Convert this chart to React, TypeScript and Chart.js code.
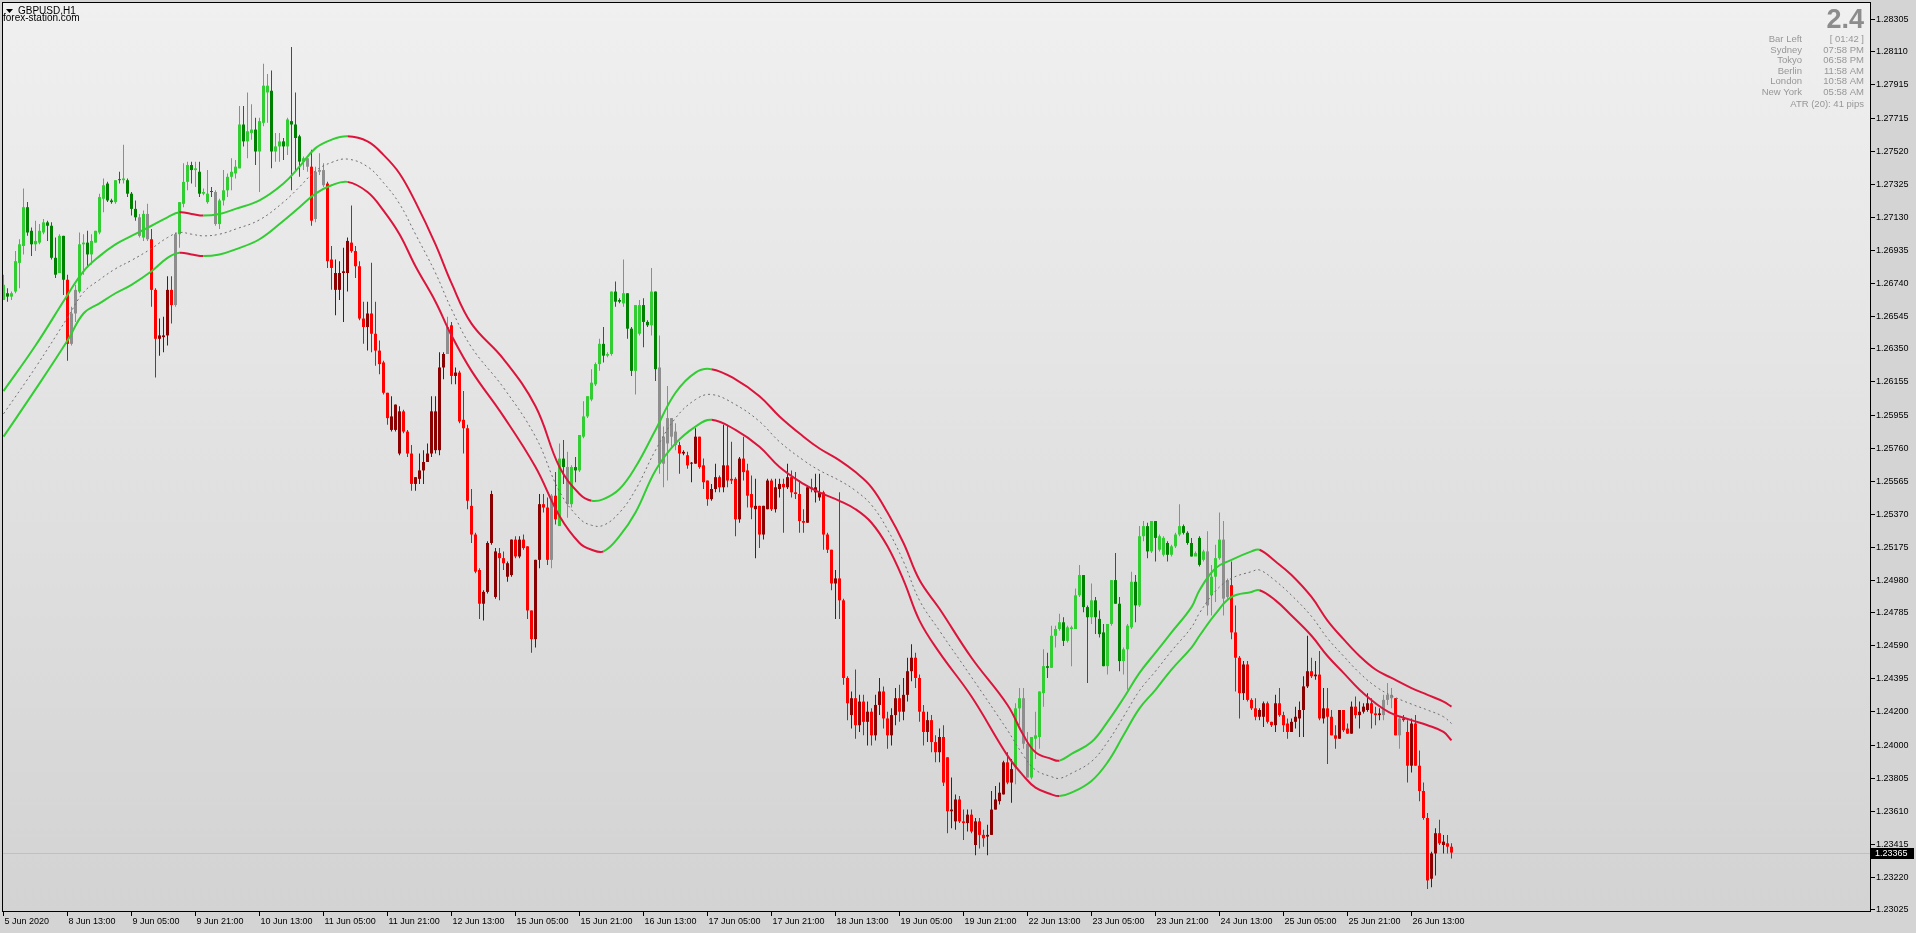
import React, { useEffect, useRef } from "react";
import { Chart, registerables } from "chart.js";

Chart.register(...registerables);

const FONT = '"Liberation Sans", Arial, sans-serif';
const TONE_COLORS: Record<string, string> = {
  L: "#32CD32",
  G: "#008000",
  R: "#FF0000",
  D: "#8B0000",
  N: "#8E8E8E",
};
const BAND_UP = "#32CD32";
const BAND_DOWN = "#DC143C";

// ---- candles (H1, bar index 0 .. 362) ----
const opens = [
  1.2664, 1.2668, 1.2666, 1.2669, 1.2686, 1.2696, 1.2719, 1.2705, 1.2697, 1.2698,
  1.2704, 1.2710, 1.2708, 1.2689, 1.2680, 1.2702, 1.2676, 1.2638, 1.2656, 1.2669,
  1.2697, 1.2698, 1.2691, 1.2698, 1.2704, 1.2724, 1.2733, 1.2723, 1.2722, 1.2735,
  1.2735, 1.2735, 1.2727, 1.2718, 1.2713, 1.2701, 1.2715, 1.2700, 1.2670, 1.2641,
  1.2642, 1.2643, 1.2670, 1.2661, 1.2703, 1.2721, 1.2734, 1.2744, 1.2741, 1.2740,
  1.2727, 1.2722, 1.2728, 1.2728, 1.2709, 1.2723, 1.2729, 1.2737, 1.2739, 1.2742,
  1.2768, 1.2758, 1.2763, 1.2765, 1.2752, 1.2769, 1.2787, 1.2788, 1.2752, 1.2755,
  1.2758, 1.2755, 1.2770, 1.2768, 1.2761, 1.2746, 1.2748, 1.2743, 1.2712, 1.2740,
  1.2741, 1.2733, 1.2688, 1.2670, 1.2670, 1.2680, 1.2680, 1.2698, 1.2693, 1.2684,
  1.2653, 1.2648, 1.2656, 1.2644, 1.2634, 1.2627, 1.2609, 1.2587, 1.2587, 1.2573,
  1.2598, 1.2586, 1.2573, 1.2555, 1.2558, 1.2563, 1.2568, 1.2573, 1.2575, 1.2575,
  1.2624, 1.2632, 1.2649, 1.2619, 1.2621, 1.2593, 1.2588, 1.2542, 1.2525, 1.2504,
  1.2484, 1.2491, 1.2520, 1.2488, 1.2514, 1.2511, 1.2500, 1.2501, 1.2522, 1.2512,
  1.2522, 1.2518, 1.2480, 1.2463, 1.2510, 1.2543, 1.2541, 1.2510, 1.2548, 1.2530,
  1.2570, 1.2565, 1.2543, 1.2565, 1.2563, 1.2583, 1.2595, 1.2605, 1.2614, 1.2626,
  1.2638, 1.2631, 1.2632, 1.2669, 1.2664, 1.2662, 1.2668, 1.2647, 1.2622, 1.2644,
  1.2661, 1.2651, 1.2649, 1.2669, 1.2624, 1.2567, 1.2579, 1.2594, 1.2586, 1.2578,
  1.2573, 1.2572, 1.2567, 1.2567, 1.2583, 1.2566, 1.2557, 1.2546, 1.2552, 1.2559,
  1.2553, 1.2566, 1.2558, 1.2558, 1.2534, 1.2570, 1.2563, 1.2549, 1.2540, 1.2542,
  1.2525, 1.2540, 1.2557, 1.2540, 1.2552, 1.2555, 1.2553, 1.2559, 1.2550, 1.2549,
  1.2533, 1.2532, 1.2553, 1.2550, 1.2547, 1.2550, 1.2525, 1.2516, 1.2496, 1.2499,
  1.2486, 1.2440, 1.2418, 1.2428, 1.2412, 1.2426, 1.2414, 1.2420, 1.2406, 1.2424,
  1.2432, 1.2416, 1.2406, 1.2418, 1.2428, 1.2420, 1.2430, 1.2444, 1.2452, 1.2440,
  1.2420, 1.2408, 1.2415, 1.2402, 1.2396, 1.2405, 1.2393, 1.2361, 1.2355, 1.2368,
  1.2355, 1.2354, 1.2359, 1.2341, 1.2355, 1.2347, 1.2346, 1.2347, 1.2362, 1.2367,
  1.2371, 1.2390, 1.2378, 1.2387, 1.2422, 1.2428, 1.2401, 1.2381, 1.2404, 1.2405,
  1.2431, 1.2447, 1.2446, 1.2465, 1.2469, 1.2473, 1.2462, 1.2469, 1.2469, 1.2489,
  1.2501, 1.2482, 1.2476, 1.2486, 1.2475, 1.2467, 1.2447, 1.2472, 1.2498, 1.2484,
  1.2450, 1.2457, 1.2470, 1.2497, 1.2483, 1.2524, 1.2530, 1.2515, 1.2533, 1.2516,
  1.2513, 1.2520, 1.2513, 1.2518, 1.2525, 1.2530, 1.2526, 1.2520, 1.2512, 1.2523,
  1.2510, 1.2515, 1.2489, 1.2500, 1.2511, 1.2522, 1.2488, 1.2495, 1.2467, 1.2452,
  1.2431, 1.2448, 1.2427, 1.2422, 1.2417, 1.2417, 1.2425, 1.2414, 1.2412, 1.2425,
  1.2418, 1.2413, 1.2408, 1.2414, 1.2416, 1.2421, 1.2435, 1.2444, 1.2441, 1.2442,
  1.2416, 1.2422, 1.2417, 1.2406, 1.2404, 1.2421, 1.2410, 1.2407, 1.2423, 1.2418,
  1.2420, 1.2421, 1.2425, 1.2419, 1.2418, 1.2418, 1.2427, 1.2430, 1.2428, 1.2406,
  1.2416, 1.2408, 1.2388, 1.2413, 1.2388, 1.2373, 1.2357, 1.2321, 1.2336, 1.2348,
  1.2341, 1.2342, 1.2340,
];
const closes = [
  1.2673, 1.2666, 1.2668, 1.2687, 1.2697, 1.2719, 1.2704, 1.2697, 1.2699, 1.2705,
  1.2710, 1.2708, 1.2689, 1.2679, 1.2702, 1.2676, 1.2638, 1.2656, 1.2670, 1.2697,
  1.2698, 1.2691, 1.2699, 1.2705, 1.2725, 1.2732, 1.2723, 1.2722, 1.2735, 1.2735,
  1.2736, 1.2727, 1.2718, 1.2713, 1.2702, 1.2715, 1.2700, 1.2670, 1.2641, 1.2643,
  1.2643, 1.2670, 1.2661, 1.2703, 1.2722, 1.2734, 1.2744, 1.2741, 1.2742, 1.2727,
  1.2728, 1.2727, 1.2728, 1.2709, 1.2723, 1.2729, 1.2737, 1.2740, 1.2743, 1.2768,
  1.2758, 1.2764, 1.2765, 1.2752, 1.2770, 1.2791, 1.2791, 1.2752, 1.2755, 1.2758,
  1.2755, 1.2771, 1.2768, 1.2760, 1.2746, 1.2748, 1.2743, 1.2711, 1.2740, 1.2741,
  1.2732, 1.2687, 1.2683, 1.2680, 1.2680, 1.2681, 1.2699, 1.2693, 1.2684, 1.2653,
  1.2648, 1.2656, 1.2644, 1.2634, 1.2626, 1.2609, 1.2594, 1.2595, 1.2602, 1.2598,
  1.2586, 1.2573, 1.2555, 1.2559, 1.2563, 1.2568, 1.2573, 1.2598, 1.2598, 1.2624,
  1.2632, 1.2648, 1.2619, 1.2621, 1.2592, 1.2588, 1.2545, 1.2525, 1.2503, 1.2484,
  1.2491, 1.2520, 1.2549, 1.2515, 1.2511, 1.2508, 1.2508, 1.2522, 1.2512, 1.2522,
  1.2517, 1.2480, 1.2463, 1.2510, 1.2543, 1.2541, 1.2510, 1.2548, 1.2534, 1.2570,
  1.2565, 1.2543, 1.2565, 1.2563, 1.2584, 1.2595, 1.2607, 1.2615, 1.2626, 1.2638,
  1.2631, 1.2632, 1.2669, 1.2663, 1.2663, 1.2668, 1.2647, 1.2622, 1.2661, 1.2661,
  1.2651, 1.2649, 1.2669, 1.2623, 1.2567, 1.2583, 1.2594, 1.2583, 1.2578, 1.2573,
  1.2574, 1.2566, 1.2567, 1.2583, 1.2565, 1.2556, 1.2546, 1.2552, 1.2559, 1.2553,
  1.2566, 1.2557, 1.2557, 1.2534, 1.2570, 1.2562, 1.2548, 1.2541, 1.2542, 1.2525,
  1.2542, 1.2557, 1.2540, 1.2553, 1.2555, 1.2553, 1.2559, 1.2550, 1.2549, 1.2533,
  1.2532, 1.2553, 1.2552, 1.2553, 1.2550, 1.2525, 1.2516, 1.2496, 1.2499, 1.2486,
  1.2440, 1.2425, 1.2428, 1.2412, 1.2426, 1.2414, 1.2420, 1.2406, 1.2424, 1.2432,
  1.2416, 1.2406, 1.2418, 1.2428, 1.2420, 1.2430, 1.2444, 1.2452, 1.2440, 1.2420,
  1.2408, 1.2415, 1.2402, 1.2396, 1.2405, 1.2378, 1.2361, 1.2362, 1.2368, 1.2355,
  1.2354, 1.2359, 1.2349, 1.2355, 1.2347, 1.2345, 1.2347, 1.2362, 1.2368, 1.2372,
  1.2390, 1.2378, 1.2386, 1.2422, 1.2428, 1.2401, 1.2381, 1.2405, 1.2406, 1.2432,
  1.2447, 1.2446, 1.2465, 1.2469, 1.2473, 1.2462, 1.2470, 1.2470, 1.2489, 1.2501,
  1.2482, 1.2476, 1.2486, 1.2476, 1.2466, 1.2447, 1.2472, 1.2498, 1.2484, 1.2450,
  1.2457, 1.2471, 1.2497, 1.2483, 1.2524, 1.2530, 1.2515, 1.2533, 1.2523, 1.2524,
  1.2523, 1.2513, 1.2518, 1.2525, 1.2530, 1.2526, 1.2520, 1.2512, 1.2514, 1.2507,
  1.2515, 1.2483, 1.2500, 1.2511, 1.2522, 1.2487, 1.2498, 1.2467, 1.2452, 1.2431,
  1.2448, 1.2427, 1.2422, 1.2417, 1.2421, 1.2425, 1.2414, 1.2412, 1.2425, 1.2418,
  1.2412, 1.2408, 1.2414, 1.2417, 1.2421, 1.2435, 1.2444, 1.2441, 1.2442, 1.2416,
  1.2422, 1.2417, 1.2406, 1.2404, 1.2421, 1.2409, 1.2407, 1.2423, 1.2418, 1.2420,
  1.2423, 1.2425, 1.2419, 1.2418, 1.2419, 1.2427, 1.2430, 1.2428, 1.2406, 1.2416,
  1.2415, 1.2388, 1.2413, 1.2388, 1.2373, 1.2357, 1.2320, 1.2336, 1.2348, 1.2342,
  1.2343, 1.2340, 1.23365,
];
const highs = [
  1.2679, 1.2671, 1.2669, 1.2693, 1.2700, 1.2730, 1.2722, 1.2707, 1.2711, 1.2709,
  1.2712, 1.2711, 1.2710, 1.2701, 1.2703, 1.2702, 1.2679, 1.2660, 1.2673, 1.2704,
  1.2703, 1.2705, 1.2703, 1.2705, 1.2727, 1.2736, 1.2734, 1.2724, 1.2735, 1.2740,
  1.2756, 1.2736, 1.2728, 1.2723, 1.2715, 1.2717, 1.2721, 1.2706, 1.2671, 1.2653,
  1.2654, 1.2678, 1.2678, 1.2704, 1.2722, 1.2745, 1.2746, 1.2746, 1.2746, 1.2746,
  1.2730, 1.2741, 1.2731, 1.2729, 1.2724, 1.2741, 1.2739, 1.2748, 1.2747, 1.2779,
  1.2779, 1.2787, 1.2780, 1.2772, 1.2772, 1.2804, 1.2798, 1.2800, 1.2763, 1.2763,
  1.2760, 1.2772, 1.2814, 1.2787, 1.2762, 1.2749, 1.2748, 1.2753, 1.2743, 1.2751,
  1.2745, 1.2734, 1.2696, 1.2688, 1.2687, 1.2695, 1.2701, 1.2720, 1.2696, 1.2687,
  1.2663, 1.2663, 1.2686, 1.2663, 1.2640, 1.2628, 1.2609, 1.2607, 1.2602, 1.2601,
  1.2599, 1.2587, 1.2578, 1.2559, 1.2573, 1.2575, 1.2579, 1.2607, 1.2607, 1.2633,
  1.2633, 1.2654, 1.2651, 1.2624, 1.2622, 1.2610, 1.2590, 1.2552, 1.2526, 1.2505,
  1.2492, 1.2521, 1.2551, 1.2517, 1.2517, 1.2515, 1.2509, 1.2522, 1.2524, 1.2524,
  1.2525, 1.2518, 1.2480, 1.2510, 1.2549, 1.2549, 1.2547, 1.2549, 1.2562, 1.2579,
  1.2581, 1.2574, 1.2566, 1.2571, 1.2584, 1.2604, 1.2607, 1.2623, 1.2627, 1.2641,
  1.2648, 1.2633, 1.2669, 1.2675, 1.2665, 1.2688, 1.2668, 1.2648, 1.2661, 1.2664,
  1.2665, 1.2652, 1.2683, 1.2669, 1.2643, 1.2589, 1.2613, 1.2594, 1.2591, 1.2580,
  1.2575, 1.2574, 1.2568, 1.2588, 1.2583, 1.2570, 1.2557, 1.2555, 1.2567, 1.2560,
  1.2590, 1.2590, 1.2580, 1.2559, 1.2571, 1.2583, 1.2567, 1.2560, 1.2558, 1.2542,
  1.2542, 1.2558, 1.2558, 1.2558, 1.2558, 1.2558, 1.2567, 1.2563, 1.2562, 1.2557,
  1.2540, 1.2554, 1.2558, 1.2561, 1.2561, 1.2551, 1.2526, 1.2516, 1.2504, 1.2550,
  1.2487, 1.2441, 1.2432, 1.2445, 1.2430, 1.2430, 1.2426, 1.2422, 1.2430, 1.2440,
  1.2435, 1.2420, 1.2422, 1.2434, 1.2436, 1.2440, 1.2452, 1.2460, 1.2455, 1.2442,
  1.2424, 1.2420, 1.2418, 1.2406, 1.2410, 1.2412, 1.2393, 1.2381, 1.2371, 1.2370,
  1.2362, 1.2362, 1.2362, 1.2357, 1.2357, 1.2350, 1.2353, 1.2373, 1.2376, 1.2378,
  1.2391, 1.2396, 1.2392, 1.2425, 1.2434, 1.2434, 1.2408, 1.2405, 1.2420, 1.2432,
  1.2457, 1.2455, 1.2471, 1.2471, 1.2478, 1.2476, 1.2471, 1.2471, 1.2493, 1.2507,
  1.2501, 1.2483, 1.2496, 1.2488, 1.2480, 1.2472, 1.2472, 1.2498, 1.2514, 1.2488,
  1.2458, 1.2472, 1.2503, 1.2501, 1.2530, 1.2533, 1.2532, 1.2533, 1.2533, 1.2525,
  1.2524, 1.2521, 1.2519, 1.2526, 1.2543, 1.2531, 1.2527, 1.2523, 1.2515, 1.2524,
  1.2516, 1.2527, 1.2507, 1.2519, 1.2538, 1.2533, 1.2499, 1.2509, 1.2483, 1.2453,
  1.2450, 1.2450, 1.2428, 1.2428, 1.2422, 1.2426, 1.2426, 1.2414, 1.2430, 1.2434,
  1.2420, 1.2416, 1.2416, 1.2423, 1.2426, 1.2441, 1.2465, 1.2452, 1.2450, 1.2456,
  1.2434, 1.2434, 1.2421, 1.2412, 1.2421, 1.2421, 1.2413, 1.2426, 1.2429, 1.2426,
  1.2425, 1.2431, 1.2428, 1.2423, 1.2422, 1.2430, 1.2437, 1.2434, 1.2428, 1.2417,
  1.2418, 1.2415, 1.2416, 1.2418, 1.2397, 1.2378, 1.2360, 1.2337, 1.2351, 1.2356,
  1.2347, 1.2347, 1.2342,
];
const lows = [
  1.2664, 1.2663, 1.2664, 1.2668, 1.2671, 1.2691, 1.2702, 1.2690, 1.2693, 1.2697,
  1.2703, 1.2699, 1.2688, 1.2677, 1.2680, 1.2667, 1.2628, 1.2637, 1.2651, 1.2668,
  1.2679, 1.2683, 1.2685, 1.2698, 1.2703, 1.2716, 1.2722, 1.2721, 1.2721, 1.2733,
  1.2733, 1.2725, 1.2714, 1.2711, 1.2701, 1.2699, 1.2699, 1.2660, 1.2618, 1.2631,
  1.2633, 1.2637, 1.2650, 1.2660, 1.2695, 1.2719, 1.2729, 1.2733, 1.2731, 1.2725,
  1.2726, 1.2721, 1.2725, 1.2708, 1.2706, 1.2720, 1.2725, 1.2729, 1.2736, 1.2742,
  1.2755, 1.2748, 1.2759, 1.2744, 1.2728, 1.2767, 1.2769, 1.2742, 1.2746, 1.2746,
  1.2747, 1.2750, 1.2729, 1.2740, 1.2737, 1.2741, 1.2740, 1.2708, 1.2710, 1.2738,
  1.2731, 1.2683, 1.2670, 1.2655, 1.2664, 1.2651, 1.2669, 1.2692, 1.2677, 1.2652,
  1.2638, 1.2634, 1.2633, 1.2625, 1.2620, 1.2608, 1.2590, 1.2586, 1.2586, 1.2572,
  1.2585, 1.2571, 1.2551, 1.2551, 1.2555, 1.2555, 1.2568, 1.2571, 1.2573, 1.2572,
  1.2617, 1.2632, 1.2614, 1.2614, 1.2591, 1.2573, 1.2540, 1.2520, 1.2502, 1.2475,
  1.2474, 1.2490, 1.2519, 1.2487, 1.2486, 1.2504, 1.2497, 1.2500, 1.2511, 1.2511,
  1.2516, 1.2475, 1.2455, 1.2458, 1.2505, 1.2538, 1.2507, 1.2505, 1.2531, 1.2530,
  1.2555, 1.2535, 1.2541, 1.2556, 1.2562, 1.2582, 1.2594, 1.2604, 1.2613, 1.2622,
  1.2627, 1.2630, 1.2631, 1.2660, 1.2662, 1.2660, 1.2641, 1.2619, 1.2608, 1.2643,
  1.2636, 1.2648, 1.2643, 1.2616, 1.2561, 1.2553, 1.2557, 1.2577, 1.2575, 1.2561,
  1.2572, 1.2564, 1.2556, 1.2567, 1.2564, 1.2552, 1.2542, 1.2545, 1.2550, 1.2550,
  1.2550, 1.2553, 1.2555, 1.2524, 1.2532, 1.2557, 1.2541, 1.2534, 1.2511, 1.2517,
  1.2522, 1.2540, 1.2539, 1.2538, 1.2547, 1.2526, 1.2552, 1.2547, 1.2546, 1.2526,
  1.2526, 1.2532, 1.2550, 1.2544, 1.2545, 1.2516, 1.2514, 1.2492, 1.2475, 1.2475,
  1.2436, 1.2415, 1.2410, 1.2404, 1.2408, 1.2406, 1.2400, 1.2400, 1.2403, 1.2418,
  1.2410, 1.2398, 1.2400, 1.2412, 1.2414, 1.2415, 1.2426, 1.2438, 1.2434, 1.2414,
  1.2400, 1.2402, 1.2396, 1.2390, 1.2390, 1.2376, 1.2348, 1.2351, 1.2350, 1.2354,
  1.2344, 1.2349, 1.2348, 1.2335, 1.2339, 1.2340, 1.2335, 1.2347, 1.2362, 1.2365,
  1.2371, 1.2377, 1.2366, 1.2377, 1.2412, 1.2398, 1.2381, 1.2380, 1.2392, 1.2398,
  1.2423, 1.2440, 1.2446, 1.2458, 1.2468, 1.2459, 1.2461, 1.2447, 1.2469, 1.2488,
  1.2479, 1.2437, 1.2472, 1.2466, 1.2464, 1.2447, 1.2442, 1.2471, 1.2484, 1.2444,
  1.2442, 1.2433, 1.2469, 1.2473, 1.2482, 1.2521, 1.2511, 1.2514, 1.2509, 1.2515,
  1.2512, 1.2509, 1.2512, 1.2517, 1.2524, 1.2525, 1.2519, 1.2512, 1.2513, 1.2506,
  1.2509, 1.2477, 1.2477, 1.2485, 1.2510, 1.2477, 1.2487, 1.2463, 1.2432, 1.2416,
  1.2427, 1.2426, 1.2421, 1.2415, 1.2415, 1.2411, 1.2413, 1.2411, 1.2408, 1.2417,
  1.2408, 1.2404, 1.2408, 1.2410, 1.2405, 1.2405, 1.2434, 1.2440, 1.2439, 1.2415,
  1.2413, 1.2389, 1.2406, 1.2398, 1.2404, 1.2408, 1.2407, 1.2407, 1.2416, 1.2410,
  1.2419, 1.2420, 1.2410, 1.2412, 1.2415, 1.2415, 1.2424, 1.2422, 1.2406, 1.2398,
  1.2414, 1.2378, 1.2384, 1.2388, 1.2367, 1.2356, 1.2315, 1.2316, 1.2323, 1.2341,
  1.2336, 1.2336, 1.2333,
];
// candle colouring state: L lime (up/bull), G dark green (up/bear), R red (down/bear), D dark red (down/bull), N neutral
const barTones = [
  "LGLLLLGGLL", "LGGGLGRNNL", "LGLLLLGGLG", "LGGGNLNRRD", "DDRNLLLGLG",
  "LLGNLLLLLL", "GLLGLLLGLL", "GLGGGLNRNN", "NRRDDDDRRR", "RDRRRRRDDD",
  "RRRDDDDDDD", "DNRDRRRRRR", "DDDDRRDDRD", "RRRDDRRNRL", "GNLGLLLLLL",
  "GLLGGLGGLL", "GGLGNNNNNR", "DRDDRRRDDR", "DRRRDRRRDR", "DDRDDRDRRR",
  "RDRDDRRRDR", "RRDRDRDRDD", "RRDDRDDDRR", "RDRRDRRDDR", "RDRDRRDDDD",
  "DRDLLNNLLL", "LGLLLGLLLL", "GGLGGGLLGG", "LLLGLLGLGL", "LGLLLGGGLG",
  "LNLLLNNRRR", "DRRRDDRRDR", "RRDDDDDRDR", "DRRRDRRDRD", "DDRRDNNNRN",
  "RRDRRRRDDR", "DRR",
].join("").split("");

// ---- envelope bands ----
const bandBars = [
  0, 8, 16, 20, 24, 28, 32, 37, 41, 44, 47, 50, 54, 58, 64, 70, 74, 78, 82, 86,
  91, 95, 99, 103, 108, 112, 117, 125, 133, 139, 144, 147, 150, 154, 158, 163, 168, 173, 177, 183,
  189, 194, 200, 204, 209, 213, 217, 221, 225, 229, 234, 242, 251, 255, 258, 262, 264, 267, 272, 276,
  280, 284, 288, 292, 297, 299, 303, 307, 312, 314, 318, 322, 327, 331, 335, 339, 343, 347, 352, 356,
  360, 362,
];
const bandUpper = [
  1.2610, 1.2637, 1.2667, 1.2681, 1.2690, 1.2697, 1.2702, 1.2708, 1.2713, 1.2716,
  1.2715, 1.2714, 1.2715, 1.2718, 1.2723, 1.2733, 1.2743, 1.2754, 1.2759, 1.2761,
  1.2758, 1.2750, 1.2739, 1.2722, 1.2697, 1.2674, 1.2650, 1.2629, 1.2601, 1.2565,
  1.2549, 1.2545, 1.2546, 1.2552, 1.2565, 1.2587, 1.2609, 1.2621, 1.2623, 1.2617,
  1.2607, 1.2595, 1.2583, 1.2576, 1.2569, 1.2562, 1.2553, 1.2538, 1.2520, 1.2498,
  1.2481, 1.2452, 1.2424, 1.2406, 1.2396, 1.2392, 1.2391, 1.2395, 1.2402, 1.2414,
  1.2428, 1.2443, 1.2455, 1.2467, 1.2482, 1.2492, 1.2505, 1.2510, 1.2515, 1.2516,
  1.2509, 1.2501, 1.2488, 1.2474, 1.2463, 1.2453, 1.2445, 1.2440, 1.2434, 1.2430,
  1.2426, 1.2423,
];
const bandLower = [
  1.2583, 1.2611, 1.2640, 1.2656, 1.2662, 1.2668, 1.2673, 1.2681, 1.2689, 1.2692,
  1.2691, 1.2690, 1.2691, 1.2694, 1.2700, 1.2711, 1.2719, 1.2727, 1.2732, 1.2734,
  1.2728, 1.2717, 1.2703, 1.2684, 1.2663, 1.2643, 1.2622, 1.2595, 1.2565, 1.2536,
  1.2520, 1.2516, 1.2515, 1.2524, 1.2538, 1.2563, 1.2579, 1.2589, 1.2593, 1.2587,
  1.2577, 1.2565, 1.2555, 1.2550, 1.2545, 1.2540, 1.2532, 1.2518, 1.2498, 1.2474,
  1.2455, 1.2429, 1.2394, 1.2382, 1.2375, 1.2371, 1.2370, 1.2372, 1.2379, 1.2390,
  1.2406, 1.2422, 1.2433, 1.2445, 1.2458, 1.2465, 1.2478, 1.2488, 1.2491, 1.2492,
  1.2486, 1.2477, 1.2465, 1.2453, 1.2443, 1.2433, 1.2425, 1.2419, 1.2415, 1.2412,
  1.2408, 1.2403,
];
const bandMiddle = [
  1.25965, 1.2624, 1.26535, 1.26685, 1.2676, 1.26825, 1.26875, 1.26945, 1.2701, 1.2704,
  1.2703, 1.2702, 1.2703, 1.2706, 1.27115, 1.2722, 1.2731, 1.27405, 1.27455, 1.27475,
  1.2743, 1.27335, 1.2721, 1.2703, 1.2680, 1.26585, 1.2636, 1.2612, 1.2583, 1.25505,
  1.25345, 1.25305, 1.25305, 1.2538, 1.25515, 1.2575, 1.2594, 1.2605, 1.2608, 1.2602,
  1.2592, 1.2580, 1.2569, 1.2563, 1.2557, 1.2551, 1.25425, 1.2528, 1.2509, 1.2486,
  1.2468, 1.24405, 1.2409, 1.2394, 1.23855, 1.23815, 1.23805, 1.23835, 1.23905, 1.2402,
  1.2417, 1.24325, 1.2444, 1.2456, 1.2470, 1.24785, 1.24915, 1.2499, 1.2503, 1.2504,
  1.24975, 1.2489, 1.24765, 1.24635, 1.2453, 1.2443, 1.2435, 1.24295, 1.24245, 1.2421,
  1.2417, 1.2413,
];

// ---- axes ----
const priceTicks = [
  1.28305, 1.2811, 1.27915, 1.27715, 1.2752, 1.27325, 1.2713, 1.26935, 1.2674, 1.26545,
  1.2635, 1.26155, 1.25955, 1.2576, 1.25565, 1.2537, 1.25175, 1.2498, 1.24785, 1.2459,
  1.24395, 1.242, 1.24, 1.23805, 1.2361, 1.23415, 1.2322, 1.23025,
];
const timeTickBars = [0, 16, 32, 48, 64, 80, 96, 112, 128, 144, 160, 176, 192, 208, 224, 240, 256, 272, 288, 304, 320, 336, 352];
const timeTickLabels = [
  "5 Jun 2020", "8 Jun 13:00", "9 Jun 05:00", "9 Jun 21:00", "10 Jun 13:00", "11 Jun 05:00",
  "11 Jun 21:00", "12 Jun 13:00", "15 Jun 05:00", "15 Jun 21:00", "16 Jun 13:00", "17 Jun 05:00",
  "17 Jun 21:00", "18 Jun 13:00", "19 Jun 05:00", "19 Jun 21:00", "22 Jun 13:00", "23 Jun 05:00",
  "23 Jun 21:00", "24 Jun 13:00", "25 Jun 05:00", "25 Jun 21:00", "26 Jun 13:00",
];
const currentPrice = 1.23365;

// ---- text overlays ----
const symbolTitle = "GBPUSD,H1";
const siteLabel = "forex-station.com";
const spreadValue = "2.4";
const panelLabels = ["Bar Left", "Sydney", "Tokyo", "Berlin", "London", "New York"];
const panelValues = ["[ 01:42 ]", "07:58 PM", "06:58 PM", "11:58 AM", "10:58 AM", "05:58 AM"];
const atrText = "ATR (20): 41 pips";

const barIndex = opens.map((_, i) => i);
const toneColors = barTones.map((t) => TONE_COLORS[t] || TONE_COLORS.N);

const mtPlugin = {
  id: "mtPlugin",
  beforeDraw(chart: any) {
    const { ctx, chartArea: a, width, height } = chart;
    ctx.save();
    ctx.fillStyle = "#D4D4D4";
    ctx.fillRect(0, 0, width, height);
    const g = ctx.createLinearGradient(0, a.top, 0, a.bottom);
    g.addColorStop(0, "#F0F0F0");
    g.addColorStop(1, "#D3D3D3");
    ctx.fillStyle = g;
    ctx.fillRect(a.left, a.top, a.right - a.left, a.bottom - a.top);
    ctx.restore();
  },
  beforeDatasetsDraw(chart: any) {
    const { ctx, chartArea: a } = chart;
    const y = Math.round(chart.scales.y.getPixelForValue(currentPrice)) + 0.5;
    ctx.save();
    ctx.strokeStyle = "#C0C0C0";
    ctx.lineWidth = 1;
    ctx.beginPath();
    ctx.moveTo(a.left, y);
    ctx.lineTo(a.right, y);
    ctx.stroke();
    ctx.restore();
  },
  afterDraw(chart: any) {
    const { ctx, chartArea: a } = chart;
    ctx.save();
    ctx.strokeStyle = "#000";
    ctx.lineWidth = 1;
    ctx.strokeRect(a.left + 0.5, a.top + 0.5, a.right - a.left - 1, a.bottom - a.top - 1);

    // current price tag
    const py = chart.scales.y.getPixelForValue(currentPrice);
    ctx.fillStyle = "#000";
    ctx.fillRect(a.right, Math.round(py) - 5, 43, 11);
    ctx.fillStyle = "#FFF";
    ctx.font = `9px ${FONT}`;
    ctx.textAlign = "left";
    ctx.textBaseline = "middle";
    ctx.fillText(currentPrice.toFixed(5), a.right + 4, Math.round(py) + 0.5);

    // title
    ctx.fillStyle = "#000";
    ctx.beginPath();
    ctx.moveTo(6, 9);
    ctx.lineTo(13, 9);
    ctx.lineTo(9.5, 13);
    ctx.closePath();
    ctx.fill();
    ctx.font = `10px ${FONT}`;
    ctx.fillText(symbolTitle, 18, 11);
    ctx.fillText(siteLabel, 3, 18.5);

    // info panel
    ctx.fillStyle = "#8C8C8C";
    ctx.font = `bold 27px ${FONT}`;
    ctx.textAlign = "right";
    ctx.textBaseline = "alphabetic";
    ctx.fillText(spreadValue, 1864, 28);
    ctx.fillStyle = "#979797";
    ctx.font = `9.5px ${FONT}`;
    ctx.textBaseline = "middle";
    panelLabels.forEach((lab, i) => {
      const y = 39.5 + i * 10.5;
      ctx.fillText(lab, 1802, y);
      ctx.fillText(panelValues[i], 1864, y);
    });
    ctx.fillText(atrText, 1864, 104);
    ctx.restore();
  },
};

export default function App() {
  const ref = useRef<HTMLCanvasElement | null>(null);

  useEffect(() => {
    if (!ref.current) return;
    const segColor = (c: any) => (c.p1.parsed.y >= c.p0.parsed.y ? BAND_UP : BAND_DOWN);
    const chart = new Chart(ref.current, {
      type: "bar",
      data: {
        datasets: [
          {
            type: "line",
            label: "upper",
            data: bandBars.map((b, i) => ({ x: b, y: bandUpper[i] })),
            borderColor: BAND_UP,
            borderWidth: 2,
            pointRadius: 0,
            tension: 0.4,
            fill: false,
            segment: { borderColor: segColor },
            order: 0,
          } as any,
          {
            type: "line",
            label: "lower",
            data: bandBars.map((b, i) => ({ x: b, y: bandLower[i] })),
            borderColor: BAND_UP,
            borderWidth: 2,
            pointRadius: 0,
            tension: 0.4,
            fill: false,
            segment: { borderColor: segColor },
            order: 0,
          } as any,
          {
            type: "line",
            label: "middle",
            data: bandBars.map((b, i) => ({ x: b, y: bandMiddle[i] })),
            borderColor: "#6E6E6E",
            borderWidth: 1,
            borderDash: [2, 3],
            pointRadius: 0,
            tension: 0.4,
            fill: false,
            order: 0,
          } as any,
          {
            type: "bar",
            label: "bodies",
            data: barIndex.map((i) => ({ x: i, y: [opens[i], closes[i]] })),
            backgroundColor: toneColors,
            borderWidth: 0,
            barThickness: 3,
            minBarLength: 1,
            grouped: false,
            inflateAmount: 0,
            order: 1,
          } as any,
          {
            type: "bar",
            label: "wicks",
            data: barIndex.map((i) => ({ x: i, y: [lows[i], highs[i]] })),
            backgroundColor: toneColors,
            borderWidth: 0,
            barThickness: 1,
            minBarLength: 1,
            grouped: false,
            inflateAmount: 0,
            order: 2,
          } as any,
        ],
      },
      options: {
        responsive: false,
        animation: false,
        devicePixelRatio: 1,
        events: [],
        layout: { padding: { left: 2, top: 2, right: 0, bottom: 0 }, autoPadding: false } as any,
        plugins: { legend: { display: false }, tooltip: { enabled: false }, title: { display: false } },
        scales: {
          x: {
            type: "linear",
            min: -0.375,
            max: 466.875,
            bounds: "data",
            offset: false,
            afterBuildTicks: (s: any) => {
              s.ticks = timeTickBars.map((v) => ({ value: v }));
            },
            afterFit: (s: any) => {
              s.height = 21;
              s.paddingLeft = 0;
              s.paddingRight = 0;
            },
            ticks: {
              callback: (_v: any, idx: number) => timeTickLabels[idx],
              align: "start",
              labelOffset: 1,
              autoSkip: false,
              maxRotation: 0,
              minRotation: 0,
              padding: 0,
              color: "#000",
              font: { family: FONT, size: 9 },
            },
            grid: { drawOnChartArea: false, drawTicks: true, tickLength: 4, color: "#000", offset: false },
            border: { display: false },
          } as any,
          y: {
            type: "linear",
            position: "right",
            min: 1.23013,
            max: 1.28406,
            bounds: "data",
            afterBuildTicks: (s: any) => {
              s.ticks = priceTicks.map((v) => ({ value: v }));
            },
            afterFit: (s: any) => {
              s.width = 45;
              s.paddingTop = 0;
              s.paddingBottom = 0;
            },
            ticks: {
              callback: (v: any) => Number(v).toFixed(5),
              autoSkip: false,
              padding: 1,
              color: "#000",
              font: { family: FONT, size: 9 },
            },
            grid: { drawOnChartArea: false, drawTicks: true, tickLength: 4, color: "#000" },
            border: { display: false },
          } as any,
        },
      },
      plugins: [mtPlugin],
    });
    return () => chart.destroy();
  }, []);

  return (
    <div style={{ position: "fixed", left: 0, top: 0, width: 1916, height: 933, overflow: "hidden" }}>
      <canvas ref={ref} width={1916} height={933} style={{ display: "block", width: 1916, height: 933 }} />
    </div>
  );
}
